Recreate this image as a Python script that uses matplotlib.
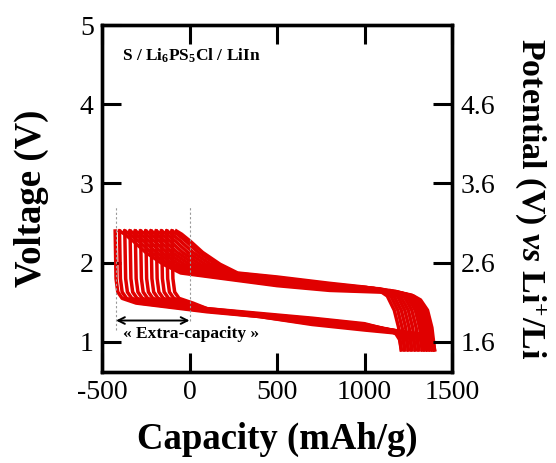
import matplotlib
matplotlib.use("Agg")
import matplotlib.pyplot as plt

plt.rcParams['font.family'] = ['Liberation Serif', 'DejaVu Serif']
plt.rcParams['mathtext.fontset'] = 'custom'
plt.rcParams['mathtext.rm'] = 'Liberation Serif:bold'
plt.rcParams['mathtext.bf'] = 'Liberation Serif:bold'
plt.rcParams['mathtext.it'] = 'Liberation Serif:bold:italic'
plt.rcParams['axes.unicode_minus'] = False

# discharge branches (capacity in mAh/g, voltage in V), one list per cycle
dis_cap = [
    [-75, -45, 5, 75, 175, 275, 500, 800, 1010, 1090, 1130, 1170, 1195, 1210],
    [-100, -70, -20, 50, 150, 250, 500, 800, 1030, 1110, 1150, 1190, 1215, 1230],
    [-130, -100, -50, 20, 120, 220, 500, 800, 1050, 1130, 1170, 1210, 1235, 1250],
    [-160, -130, -80, -10, 90, 190, 500, 800, 1070, 1150, 1190, 1230, 1255, 1270],
    [-190, -160, -110, -40, 60, 160, 500, 800, 1090, 1170, 1210, 1250, 1275, 1290],
    [-220, -190, -140, -70, 30, 130, 500, 800, 1110, 1190, 1230, 1270, 1295, 1310],
    [-250, -220, -170, -100, 0, 100, 500, 800, 1130, 1210, 1250, 1290, 1315, 1330],
    [-280, -250, -200, -130, -30, 70, 500, 800, 1145, 1225, 1265, 1305, 1330, 1345],
    [-310, -280, -230, -160, -60, 40, 500, 800, 1160, 1240, 1280, 1320, 1345, 1360],
    [-340, -310, -260, -190, -90, 10, 500, 800, 1175, 1255, 1295, 1335, 1360, 1375],
    [-370, -340, -290, -220, -120, -20, 500, 800, 1190, 1270, 1310, 1350, 1375, 1390],
    [-400, -370, -320, -250, -150, -50, 500, 800, 1200, 1280, 1320, 1360, 1385, 1400],
]
dis_volt = [
    [2.40, 2.36, 2.27, 2.13, 1.98, 1.87, 1.82, 1.74, 1.69, 1.64, 1.58, 1.40, 1.18, 0.90],
    [2.40, 2.36, 2.27, 2.13, 1.98, 1.87, 1.81, 1.73, 1.68, 1.63, 1.58, 1.40, 1.18, 0.90],
    [2.40, 2.36, 2.27, 2.13, 1.98, 1.87, 1.80, 1.72, 1.68, 1.63, 1.57, 1.40, 1.18, 0.90],
    [2.40, 2.36, 2.27, 2.13, 1.98, 1.87, 1.79, 1.72, 1.67, 1.62, 1.57, 1.40, 1.18, 0.90],
    [2.40, 2.36, 2.27, 2.13, 1.98, 1.87, 1.78, 1.71, 1.67, 1.62, 1.56, 1.40, 1.18, 0.90],
    [2.40, 2.36, 2.27, 2.13, 1.98, 1.87, 1.77, 1.70, 1.66, 1.61, 1.56, 1.40, 1.18, 0.90],
    [2.40, 2.36, 2.27, 2.13, 1.98, 1.87, 1.76, 1.69, 1.65, 1.61, 1.55, 1.40, 1.18, 0.90],
    [2.40, 2.36, 2.27, 2.13, 1.98, 1.87, 1.75, 1.68, 1.65, 1.60, 1.55, 1.40, 1.18, 0.90],
    [2.40, 2.36, 2.27, 2.13, 1.98, 1.87, 1.74, 1.68, 1.64, 1.60, 1.54, 1.40, 1.18, 0.90],
    [2.40, 2.36, 2.27, 2.13, 1.98, 1.87, 1.73, 1.67, 1.64, 1.59, 1.54, 1.40, 1.18, 0.90],
    [2.40, 2.36, 2.27, 2.13, 1.98, 1.87, 1.72, 1.66, 1.63, 1.59, 1.53, 1.40, 1.18, 0.90],
    [2.40, 2.36, 2.27, 2.13, 1.98, 1.87, 1.71, 1.65, 1.62, 1.58, 1.53, 1.40, 1.18, 0.90],
]

# charge branches (drawn from high to low capacity)
chg_cap = [
    [1210, 1200, 1180, 1140, 1000, 700, 400, 100, 20, -60, -85, -95, -100],
    [1230, 1220, 1200, 1160, 1000, 700, 400, 100, -10, -90, -115, -125, -130],
    [1250, 1240, 1220, 1180, 1000, 700, 400, 100, -40, -120, -145, -155, -160],
    [1270, 1260, 1240, 1200, 1000, 700, 400, 100, -70, -150, -175, -185, -190],
    [1290, 1280, 1260, 1220, 1000, 700, 400, 100, -100, -180, -205, -215, -220],
    [1310, 1300, 1280, 1240, 1000, 700, 400, 100, -130, -210, -235, -245, -250],
    [1330, 1320, 1300, 1260, 1000, 700, 400, 100, -160, -240, -265, -275, -280],
    [1345, 1335, 1315, 1275, 1000, 700, 400, 100, -190, -270, -295, -305, -310],
    [1360, 1350, 1330, 1290, 1000, 700, 400, 100, -220, -300, -325, -335, -340],
    [1375, 1365, 1345, 1305, 1000, 700, 400, 100, -250, -330, -355, -365, -370],
    [1390, 1380, 1360, 1320, 1000, 700, 400, 100, -280, -360, -385, -395, -400],
    [1400, 1390, 1370, 1330, 1000, 700, 400, 100, -305, -385, -410, -420, -425],
]
chg_volt = [
    [0.90, 1.03, 1.10, 1.15, 1.23, 1.30, 1.36, 1.42, 1.49, 1.55, 1.63, 1.80, 2.40],
    [0.90, 1.03, 1.10, 1.14, 1.22, 1.29, 1.35, 1.42, 1.49, 1.55, 1.63, 1.80, 2.40],
    [0.90, 1.03, 1.10, 1.14, 1.22, 1.29, 1.35, 1.41, 1.49, 1.55, 1.63, 1.80, 2.40],
    [0.90, 1.03, 1.10, 1.13, 1.21, 1.28, 1.35, 1.41, 1.49, 1.55, 1.63, 1.80, 2.40],
    [0.90, 1.03, 1.10, 1.13, 1.20, 1.27, 1.34, 1.41, 1.49, 1.55, 1.63, 1.80, 2.40],
    [0.90, 1.03, 1.10, 1.12, 1.20, 1.27, 1.34, 1.40, 1.49, 1.55, 1.63, 1.80, 2.40],
    [0.90, 1.03, 1.10, 1.11, 1.19, 1.26, 1.34, 1.40, 1.49, 1.55, 1.63, 1.80, 2.40],
    [0.90, 1.03, 1.10, 1.11, 1.18, 1.25, 1.33, 1.40, 1.49, 1.55, 1.63, 1.80, 2.40],
    [0.90, 1.03, 1.10, 1.10, 1.17, 1.24, 1.33, 1.39, 1.49, 1.55, 1.63, 1.80, 2.40],
    [0.90, 1.03, 1.10, 1.10, 1.17, 1.24, 1.33, 1.39, 1.49, 1.55, 1.63, 1.80, 2.40],
    [0.90, 1.03, 1.10, 1.09, 1.16, 1.23, 1.32, 1.39, 1.49, 1.55, 1.63, 1.80, 2.40],
    [0.90, 1.03, 1.10, 1.08, 1.15, 1.22, 1.32, 1.38, 1.49, 1.55, 1.63, 1.80, 2.40],
]

x_ticks = [-500, 0, 500, 1000, 1500]
left_ticks = [1, 2, 3, 4, 5]
right_ticks = [1.6, 2.6, 3.6, 4.6]
extra_start, extra_end = -420, 0

red = '#E00000'

fig = plt.figure(figsize=(5.56, 4.63), dpi=100)
ax = fig.add_axes([0.1835, 0.1965, 0.6295, 0.7495])

for cap, volt in zip(dis_cap, dis_volt):
    ax.plot(cap, volt, color=red, lw=2.5, solid_joinstyle='round')
for cap, volt in zip(chg_cap, chg_volt):
    ax.plot(cap, volt, color=red, lw=2.5, solid_joinstyle='round')

# extra-capacity markers
ax.plot([extra_start, extra_start], [1.15, 2.71], color='#999999', lw=0.8, ls=(0, (2, 2)))
ax.plot([extra_end, extra_end], [1.27, 2.71], color='#999999', lw=0.8, ls=(0, (2, 2)))
ax.annotate('', xy=(extra_start, 1.27), xytext=(extra_end, 1.27),
            arrowprops=dict(arrowstyle='<->', color='black', lw=1.4, mutation_scale=12,
                            shrinkA=0, shrinkB=0))
ax.text(-380, 1.10, '\u00ab Extra-capacity \u00bb', fontsize=12.5, fontweight='bold',
        ha='left', va='center')
ax.text(-386, 4.61, r'S / Li$_{6}$PS$_{5}$Cl / LiIn', fontsize=12.5, fontweight='bold',
        ha='left', va='center')

ax.set_xlim(-500, 1500)
ax.set_ylim(0.62, 5)
ax.set_xticks(x_ticks)
ax.set_yticks(left_ticks)
ax.tick_params(direction='in', length=14, width=2.2, labelsize=20, pad=6,
               top=True, right=False)
ax.set_xlabel('Capacity (mAh/g)', fontsize=26.5, fontweight='bold', labelpad=12)
ax.set_ylabel('Voltage (V)', fontsize=26.5, fontweight='bold', labelpad=22)

ax2 = ax.twinx()
ax2.set_ylim(1.22, 5.6)
ax2.set_yticks(right_ticks)
ax2.set_yticklabels([f'{t:.1f}' for t in right_ticks])
ax2.tick_params(direction='in', length=14, width=2.2, labelsize=20, pad=6)
ax2.set_ylabel(r'Potential (V) $\mathit{vs}$ Li$^{+}$/Li', fontsize=24.5,
               fontweight='bold', rotation=270, labelpad=38)

for a in (ax, ax2):
    for sp in a.spines.values():
        sp.set_linewidth(2.4)

fig.savefig('out.png', dpi=100)
